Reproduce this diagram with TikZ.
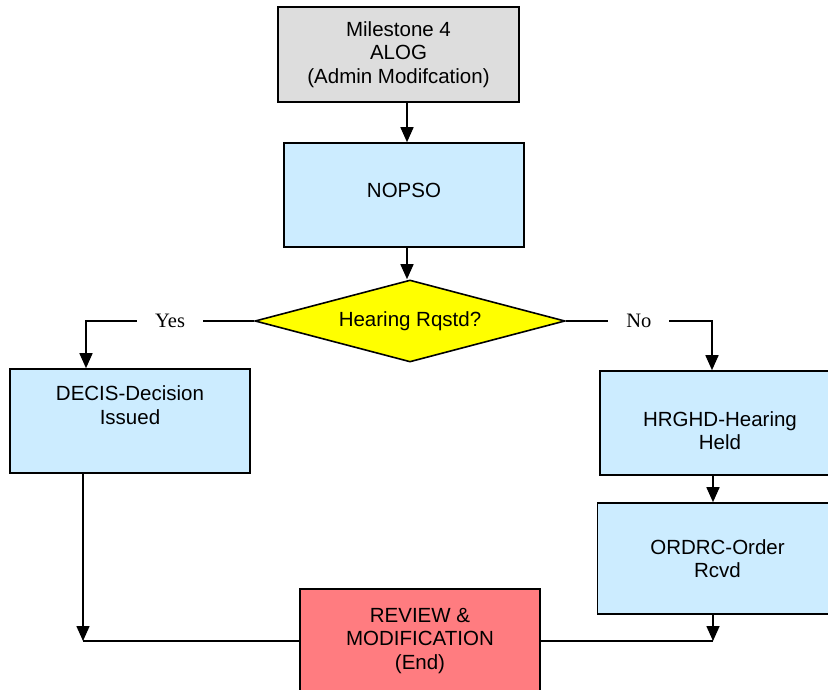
\documentclass[tikz,border=0pt]{standalone}
\usepackage{fontspec}
\setmainfont{Liberation Sans}
\newfontfamily\answerfont{Liberation Serif}
\usetikzlibrary{shapes.geometric,arrows.meta}

\definecolor{startgray}{HTML}{DDDDDD}
\definecolor{stepblue}{HTML}{CCECFF}
\definecolor{askyellow}{HTML}{FFFF00}
\definecolor{endred}{HTML}{FF7C80}

\newcommand{\flowsize}{\fontsize{20.5}{23.5}\selectfont}

\tikzset{
  flowbox/.style={draw, line width=1.6pt, minimum width=240pt, minimum height=104pt, align=center, inner sep=0pt},
  flowarrow/.style={line width=1.6pt, -{Triangle[width=13pt,length=15pt]}},
  flowline/.style={line width=1.6pt},
  answer/.style={fill=white, inner xsep=18pt, font=\answerfont\flowsize},
}

\begin{document}
\begin{tikzpicture}[x=1pt, y=-1pt, font=\flowsize]
    \useasboundingbox (0,0) rectangle (828,690);

    % Start
    \node[flowbox, fill=startgray, minimum width=241pt, minimum height=95pt] (alog) at (398.5,54.5) {Milestone 4\\ALOG\\(Admin Modifcation)};
    \node[flowbox, fill=stepblue, text depth=10pt] (nopso) at (404,195) {NOPSO};

    % Question
    \node[diamond, draw, line width=1.6pt, fill=askyellow, aspect=3.78, minimum width=310pt, minimum height=82pt, inner sep=0pt] (hearing) at (410,321) {Hearing Rqstd?};

    % Yes side
    \node[flowbox, fill=stepblue] (decis) at (130,421) {};
    \node[align=center, inner sep=0pt] (decistext) at (130,405) {DECIS-Decision\\Issued};

    % No side
    \node[flowbox, fill=stepblue, text height=54pt] (hrghd) at (720,423) {HRGHD-Hearing\\Held};
    \node[flowbox, fill=stepblue, minimum height=111pt] (ordrc) at (717.5,558.5) {ORDRC-Order\\Rcvd};

    % End
    \node[flowbox, fill=endred] (review) at (420,641) {REVIEW \&\\MODIFICATION\\(End)};

    % Bends
    \coordinate (col) at (407,0);
    \coordinate (yesbend) at (86,321);
    \coordinate (nobend) at (712,321);
    \coordinate (leftend) at (83,641);
    \coordinate (rightend) at (713,641);

    % Connectors
    \draw[flowarrow] (alog.south -| col) -- (nopso.north -| col);
    \draw[flowarrow] (nopso.south -| col) -- (hearing.north -| col);
    \draw[flowarrow] (hearing.west) -- node[answer] {Yes} (yesbend) -- (yesbend |- decis.north);
    \draw[flowarrow] (hearing.east) -- node[answer] {No} (nobend) -- (nobend |- hrghd.north);
    \draw[flowarrow] (hrghd.south -| rightend) -- (ordrc.north -| rightend);
    \draw[flowarrow] (ordrc.south -| rightend) -- (rightend);
    \draw[flowarrow] (decis.south -| leftend) -- (leftend);
    \draw[flowline] (review.west) -- (leftend);
    \draw[flowline] (review.east) -- (rightend);
\end{tikzpicture}
\end{document}
